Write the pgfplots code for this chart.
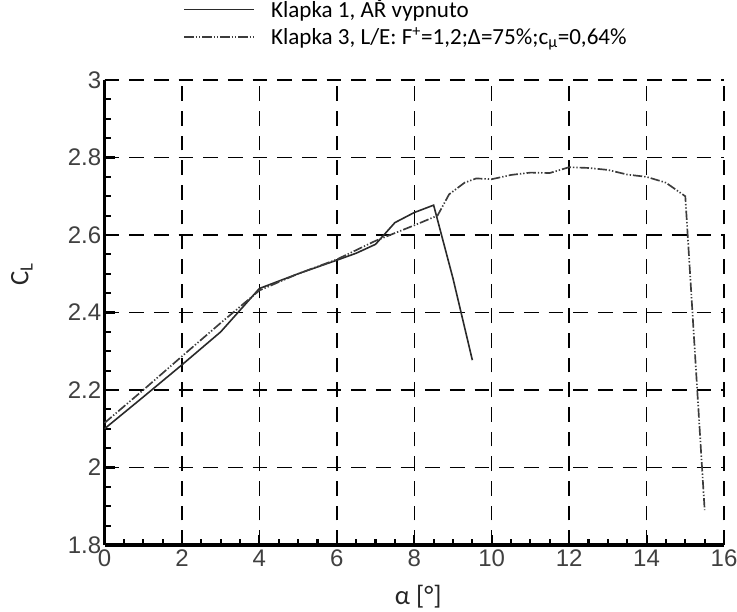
\documentclass[border=0pt]{standalone}
\usepackage{pgfplots}
\pgfplotsset{compat=1.18}
\usepackage{fontspec}
\setmainfont{Carlito}
\newfontfamily\arial{Liberation Sans}
\definecolor{solidc}{HTML}{2A2A2A}
\definecolor{dashc}{HTML}{3C3C3C}
\pgfplotsset{legend image code/.code={\draw[#1] (0pt,0pt) -- (52.5pt,0pt);}}
\begin{document}
\begin{tikzpicture}
\begin{axis}[
  scale only axis, width=464.6pt, height=348.75pt,
  xmin=0, xmax=16, ymin=1.8, ymax=3,
  axis lines*=left,
  axis line style={line width=2.8pt, black},
  xtick={0,2,4,6,8,10,12,14,16},
  ytick={1.8,2,2.2,2.4,2.6,2.8,3},
  minor x tick num=3, minor y tick num=3,
  tick align=inside,
  major tick length=7.5pt, minor tick length=4.5pt,
  every tick/.style={black, line width=1.6pt},
  grid=major,
  major grid style={black, line width=1.1pt, dash pattern=on 11pt off 7.5pt},
  ticklabel style={font=\arial\fontsize{18}{21}\selectfont, text=black!75},
  yticklabel style={xshift=1pt},
  /pgf/number format/assume math mode=true,
  xlabel={α [°]},
  ylabel={C\textsubscript{L}},
  label style={font=\fontsize{20}{24}\selectfont, text=black!85},
  xlabel style={at={(axis description cs:0.5,0)}, anchor=center, yshift=-39pt, xshift=3pt},
  ylabel style={at={(axis description cs:0,0.583)}, anchor=center, yshift=62pt},
  legend style={at={(axis description cs:0.127,1)}, anchor=south west, yshift=23pt,
    draw=none, fill=none, inner sep=0pt, row sep=1.5pt,
    font=\fontsize{17.3}{20}\selectfont,
    /tikz/every odd column/.append style={column sep=10pt}},
  legend cell align=left,
  clip=false,
]
\addplot[solidc, line width=1.2pt]
  coordinates {(0,2.100) (1,2.182) (2,2.265) (3,2.350) (4,2.462) (5,2.500) (6,2.535) (6.5,2.553) (7,2.576) (7.5,2.632) (8,2.658) (8.5,2.677) (9,2.488) (9.5,2.277)};
\addlegendentry{Klapka 1, AŘ vypnuto}
\addplot[dashc, line width=1.25pt, dash pattern=on 7pt off 1.5pt on 1pt off 1.5pt on 1pt off 1.5pt]
  coordinates {(0,2.115) (1,2.200) (2,2.287) (3,2.373) (4,2.457) (5,2.500) (6,2.537) (7,2.585) (7.5,2.605) (8,2.625) (8.6,2.650) (8.9,2.705) (9.3,2.735) (9.6,2.746) (10,2.744) (10.5,2.755) (11,2.761) (11.5,2.760) (12,2.775) (12.5,2.773) (13,2.768) (13.5,2.756) (14,2.750) (14.5,2.735) (15,2.700) (15.5,1.890)};
\addlegendentry{Klapka 3, L/E: F\textsuperscript{+}=1,2;Δ=75\%;c\textsubscript{μ}=0,64\%}
\coordinate (bl) at (rel axis cs:0,0);
\coordinate (tr) at (rel axis cs:1,1);
\end{axis}
\pgfresetboundingbox
\path[use as bounding box] ([shift={(-78.4pt,-49.5pt)}]bl) rectangle ([shift={(9.75pt,60pt)}]tr);
\end{tikzpicture}
\end{document}
